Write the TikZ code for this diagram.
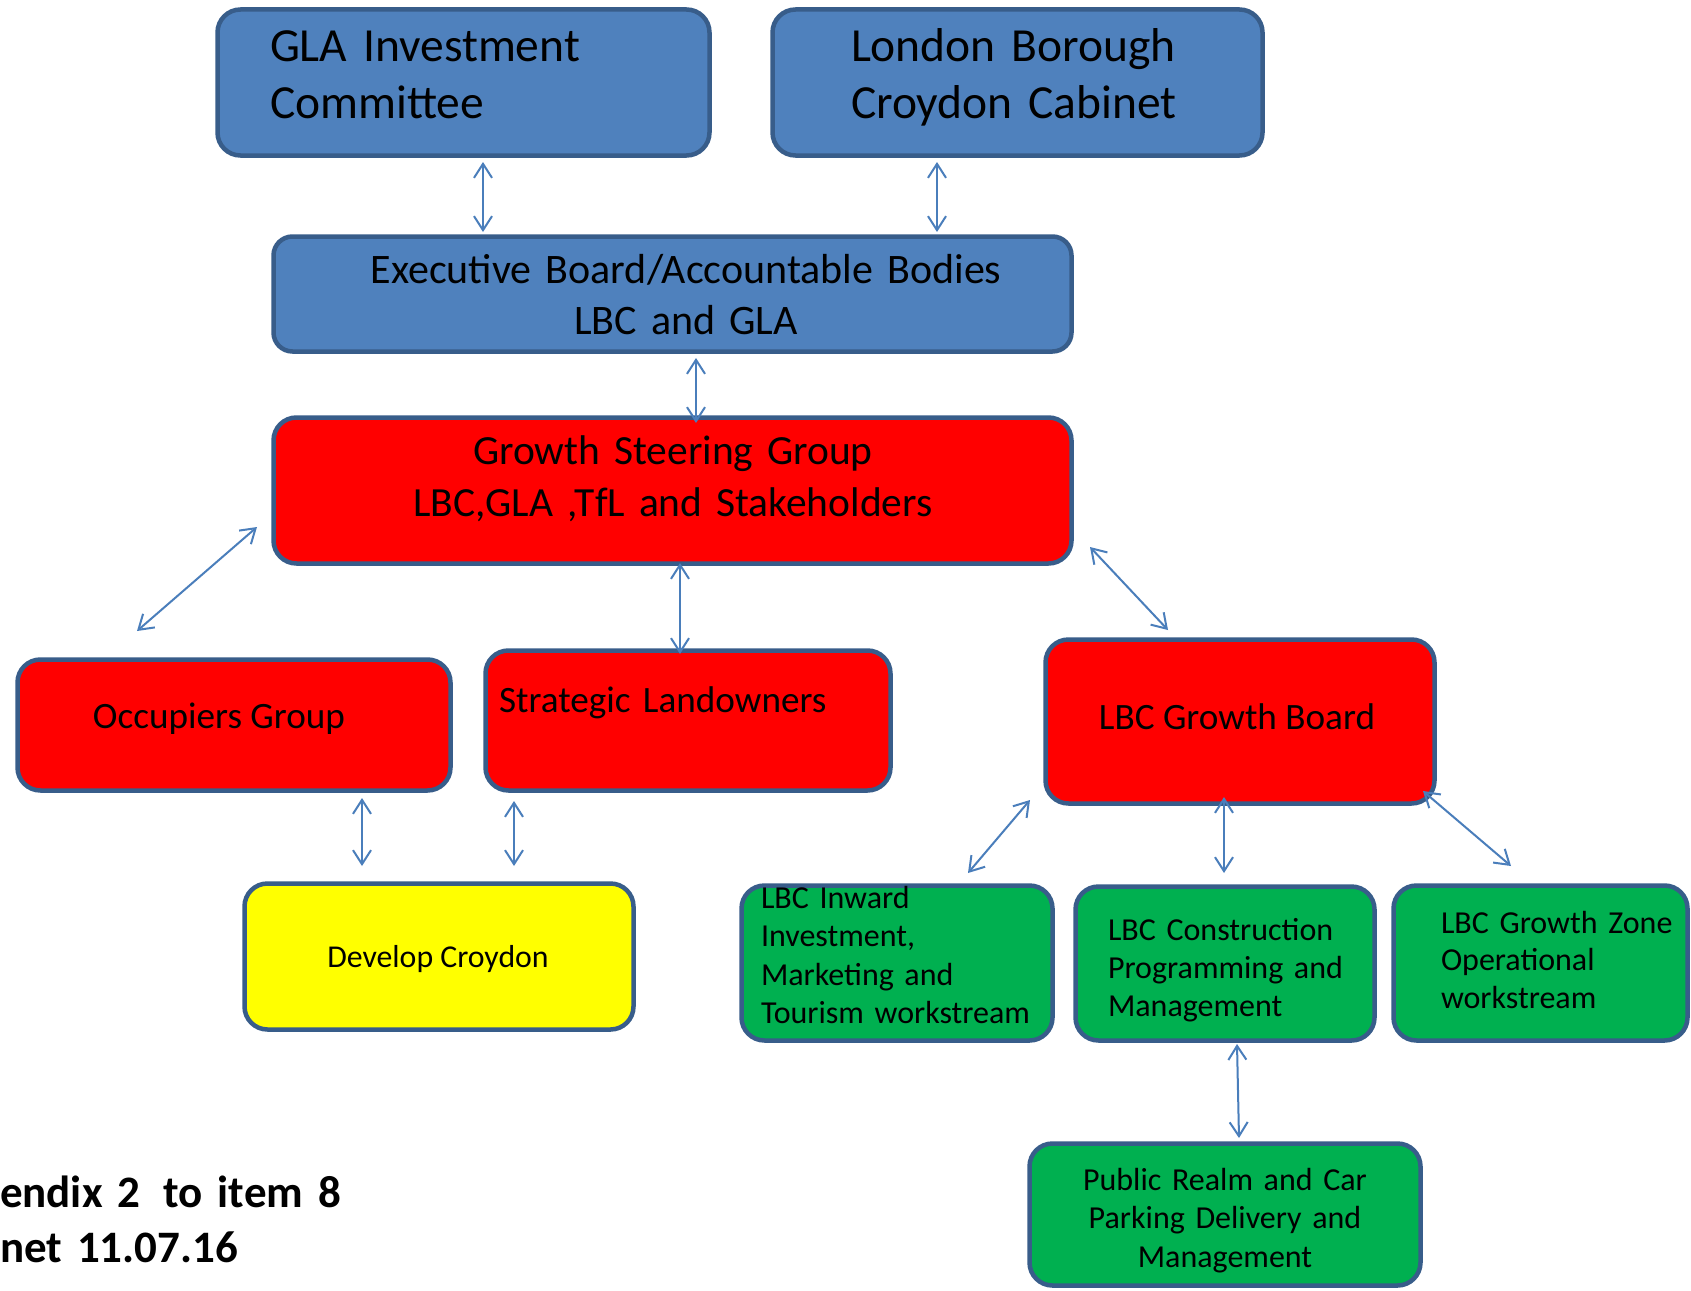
\documentclass[tikz,border=0pt]{standalone}
\usepackage{fontspec}
\setmainfont{Carlito}
\usetikzlibrary{arrows.meta}
\definecolor{bfill}{HTML}{4F81BD}
\definecolor{bline}{HTML}{385D8A}
\definecolor{rfill}{HTML}{FF0000}
\definecolor{gfill}{HTML}{00B050}
\definecolor{yfill}{HTML}{FFFF00}
\definecolor{arrc}{HTML}{4A7EBB}
\newcommand{\notefont}{\fontsize{45}{55}\selectfont\bfseries\spaceskip=6pt\relax}
\begin{document}
\begin{tikzpicture}[x=1pt,y=-1pt,
 box/.style={draw=bline, line width=4.5pt, rounded corners=23pt, inner sep=0pt, outer sep=0pt},
 bluebox/.style={box, fill=bfill},
 redbox/.style={box, fill=rfill},
 greenbox/.style={box, fill=gfill},
 yellowbox/.style={box, fill=yfill},
 txt/.style={inner sep=0pt, outer sep=0pt, text=black},
 lt/.style={txt, anchor=base west, align=left},
 ct/.style={txt, anchor=base, align=center},
 link/.style={draw=arrc, line width=2pt,
   {Straight Barb[length=14pt,width=18pt,line width=2pt]}-{Straight Barb[length=14pt,width=18pt,line width=2pt]}},
]
\useasboundingbox (0,0) rectangle (1691,1290);
\fill[white] (0,0) rectangle (1691,1290);

% boxes
\node[bluebox, minimum width=492pt, minimum height=146pt] (gla) at (463.5,82.5) {};
\node[bluebox, minimum width=490pt, minimum height=146pt] (lbc) at (1017.5,82.5) {};
\node[bluebox, rounded corners=19pt, minimum width=798pt, minimum height=115pt] (exec) at (672.5,294) {};
\node[redbox, minimum width=798pt, minimum height=146pt] (gsg) at (672.5,490.5) {};
\node[redbox, minimum width=433pt, minimum height=131pt] (occ) at (234,725) {};
\node[redbox, minimum width=405pt, minimum height=140pt] (strat) at (688,720.5) {};
\node[redbox, minimum width=389pt, minimum height=164pt] (gb) at (1240,721.5) {};
\node[yellowbox, minimum width=389pt, minimum height=146pt] (dev) at (439,956.5) {};
\node[greenbox, minimum width=311pt, minimum height=155pt] (inw) at (897,963) {};
\node[greenbox, minimum width=299pt, minimum height=154pt] (con) at (1225,963.5) {};
\node[greenbox, minimum width=294pt, minimum height=155pt] (gz) at (1540.5,963) {};
\node[greenbox, minimum width=391pt, minimum height=142pt] (pub) at (1225,1214.5) {};

% texts
\node[lt, text width=440pt, font=\fontsize{47.5}{56}\selectfont] (gla-t) at (270,62) {GLA Investment\\Committee};
\node[lt, text width=400pt, font=\fontsize{47.5}{56}\selectfont] (lbc-t) at (851,62) {London Borough\\Croydon Cabinet};
\node[ct, text width=780pt, font=\fontsize{42}{51}\selectfont] (exec-t) at (686,283) {Executive Board/Accountable Bodies\\LBC and GLA};
\node[ct, text width=780pt, font=\fontsize{41.5}{52}\selectfont] (gsg-t) at (673,464) {Growth Steering Group\\LBC,GLA ,TfL and Stakeholders};
\node[ct, font=\fontsize{37.2}{44}\selectfont] (occ-t) at (219,728) {Occupiers Group};
\node[lt, text width=380pt, font=\fontsize{37.2}{44}\selectfont] (strat-t) at (499,712) {Strategic Landowners};
\node[ct, font=\fontsize{37.2}{44}\selectfont] (gb-t) at (1237,729) {LBC Growth Board};
\node[ct, font=\fontsize{31.8}{38}\selectfont] (dev-t) at (438,967) {Develop Croydon};
\node[lt, text width=290pt, font=\fontsize{32}{38.5}\selectfont] (inw-t) at (761,908) {LBC Inward\\Investment,\\Marketing and\\Tourism workstream};
\node[lt, text width=260pt, font=\fontsize{32}{38}\selectfont] (con-t) at (1108,940) {LBC Construction\\Programming and\\Management};
\node[lt, text width=245pt, font=\fontsize{32}{37.5}\selectfont] (gz-t) at (1441,933) {LBC Growth Zone\\Operational\\workstream};
\node[ct, text width=380pt, font=\fontsize{32}{38.5}\selectfont] (pub-t) at (1225,1190) {Public Realm and Car\\Parking Delivery and\\Management};
\node[lt, text width=400pt, font=\notefont] (note) at (0,1207) {endix 2\hspace{23pt}to item 8\\net 11.07.16};

% connector end points
\coordinate (a1s) at (483,162);   \coordinate (a1e) at (483,232);
\coordinate (a2s) at (937,162);   \coordinate (a2e) at (937,232);
\coordinate (a3s) at (696,358);   \coordinate (a3e) at (696,423);
\coordinate (a4s) at (257,527);   \coordinate (a4e) at (137,631);
\coordinate (a5s) at (680,563);   \coordinate (a5e) at (680,654);
\coordinate (a6s) at (1090,547);  \coordinate (a6e) at (1168,630);
\coordinate (a7s) at (362,798);   \coordinate (a7e) at (362,866);
\coordinate (a8s) at (514,801);   \coordinate (a8e) at (514,866);
\coordinate (a9s) at (1030,800);  \coordinate (a9e) at (968,873);
\coordinate (a10s) at (1224,797); \coordinate (a10e) at (1224,873);
\coordinate (a11s) at (1423,791); \coordinate (a11e) at (1511,866);
\coordinate (a12s) at (1237,1044);\coordinate (a12e) at (1239,1138);

\draw[link] (a1s) -- (a1e);
\draw[link] (a2s) -- (a2e);
\draw[link] (a3s) -- (a3e);
\draw[link] (a4s) -- (a4e);
\draw[link] (a5s) -- (a5e);
\draw[link] (a6s) -- (a6e);
\draw[link] (a7s) -- (a7e);
\draw[link] (a8s) -- (a8e);
\draw[link] (a9s) -- (a9e);
\draw[link] (a10s) -- (a10e);
\draw[link] (a11s) -- (a11e);
\draw[link] (a12s) -- (a12e);
\end{tikzpicture}
\end{document}
